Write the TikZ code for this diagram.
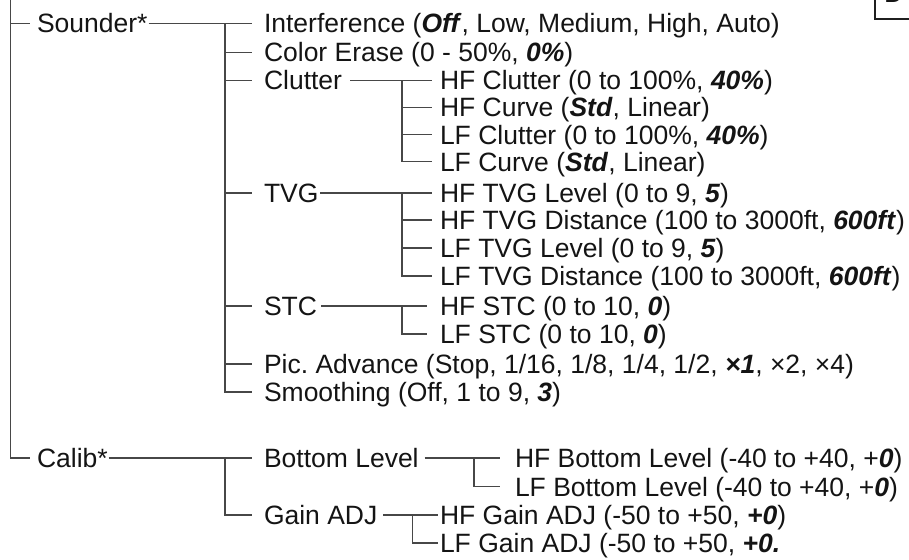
\documentclass[tikz,border=0pt]{standalone}
\usepackage{fontspec}
\setmainfont{Liberation Sans}
\begin{document}
\frenchspacing
\begin{tikzpicture}[x=1pt,y=-1pt,
  lbl/.style={anchor=west, inner sep=0pt, outer sep=0pt, text height=19pt, text depth=0pt,
    font=\fontsize{26.5}{30}\selectfont, text=black!92},
  ln/.style={draw=black!72, line width=1.3pt},
  bx/.style={draw=black!88, line width=1.6pt, minimum width=80pt, minimum height=50pt, inner sep=0pt}]
\newcommand{\bi}[1]{\textbf{\textit{#1}}}
\useasboundingbox (0,0) rectangle (909,559);

% level 1
\node[lbl] (sounder) at (37,23.3) {Sounder*};
\node[lbl] (calib) at (37,458) {Calib*};
\coordinate (top) at (10.7,-5);
\coordinate (s1) at (10.7,23.3);
\coordinate (c1) at (10.7,458);
\draw[ln] (top) -- (c1) -- ([xshift=-7pt]calib.west);
\draw[ln] (s1) -- ([xshift=-7pt]sounder.west);

% level 2 (Sounder)
\node[lbl] (intf) at (264,23.3) {Interference (\bi{Off}, Low, Medium, High, Auto)};
\node[lbl] (cerase) at (264,52.3) {Color Erase (0 - 50\%, \bi{0\%})};
\node[lbl] (clutter) at (264,80.5) {Clutter};
\node[lbl] (tvg) at (264,193) {TVG};
\node[lbl] (stc) at (264,306) {STC};
\node[lbl] (pic) at (264,364) {Pic. Advance (Stop, 1/16, 1/8, 1/4, 1/2, \bi{×1}, ×2, ×4)};
\node[lbl] (smooth) at (264,392) {Smoothing (Off, 1 to 9, \bi{3})};
\coordinate (b2top) at (225,23.3);
\coordinate (b2bot) at (225,392);
\draw[ln] ([xshift=1pt]sounder.east) -- ([xshift=-12pt]intf.west);
\draw[ln] (b2top) -- (b2bot) -- ([xshift=-12pt]smooth.west);
\foreach \n in {cerase,clutter,tvg,stc,pic}
  \draw[ln] (\n.west -| b2top) -- ([xshift=-12pt]\n.west);

% Clutter
\node[lbl] (hfc) at (440,80.5) {HF Clutter (0 to 100\%, \bi{40\%})};
\node[lbl] (hfcv) at (440,107.5) {HF Curve (\bi{Std}, Linear)};
\node[lbl] (lfc) at (440,134.5) {LF Clutter (0 to 100\%, \bi{40\%})};
\node[lbl] (lfcv) at (440,161.5) {LF Curve (\bi{Std}, Linear)};
\coordinate (cb) at (402,80.5);
\draw[ln] ([xshift=8pt]clutter.east) -- ([xshift=-8pt]hfc.west);
\draw[ln] (cb) -- (lfcv.west -| cb) -- ([xshift=-8pt]lfcv.west);
\foreach \n in {hfcv,lfc}
  \draw[ln] (\n.west -| cb) -- ([xshift=-8pt]\n.west);

% TVG
\node[lbl] (htl) at (440,193) {HF TVG Level (0 to 9, \bi{5})};
\node[lbl] (htd) at (440,220) {HF TVG Distance (100 to 3000ft, \bi{600ft})};
\node[lbl] (ltl) at (440,248) {LF TVG Level (0 to 9, \bi{5})};
\node[lbl] (ltd) at (440,276) {LF TVG Distance (100 to 3000ft, \bi{600ft})};
\coordinate (tb) at (402,193);
\draw[ln] ([xshift=2pt]tvg.east) -- ([xshift=-8pt]htl.west);
\draw[ln] (tb) -- (ltd.west -| tb) -- ([xshift=-8pt]ltd.west);
\foreach \n in {htd,ltl}
  \draw[ln] (\n.west -| tb) -- ([xshift=-8pt]\n.west);

% STC
\node[lbl] (hs) at (440,306) {HF STC (0 to 10, \bi{0})};
\node[lbl] (ls) at (440,334) {LF STC (0 to 10, \bi{0})};
\coordinate (sb) at (402,306);
\draw[ln] ([xshift=4pt]stc.east) -- ([xshift=-13pt]hs.west);
\draw[ln] (sb) -- (ls.west -| sb) -- ([xshift=-13pt]ls.west);

% level 2 (Calib)
\node[lbl] (blev) at (264,458) {Bottom Level};
\node[lbl] (gadj) at (264,515) {Gain ADJ};
\coordinate (b3top) at (225,458);
\draw[ln] ([xshift=1pt]calib.east) -- ([xshift=-12pt]blev.west);
\draw[ln] (b3top) -- (gadj.west -| b3top) -- ([xshift=-12pt]gadj.west);

% Bottom Level
\node[lbl] (hbl) at (515,458) {HF Bottom Level (-40 to +40, +\bi{0})};
\node[lbl] (lbl2) at (515,486.5) {LF Bottom Level (-40 to +40, +\bi{0})};
\coordinate (bb) at (474,458);
\draw[ln] ([xshift=6pt]blev.east) -- ([xshift=-15pt]hbl.west);
\draw[ln] (bb) -- (lbl2.west -| bb) -- ([xshift=-15pt]lbl2.west);

% Gain ADJ
\node[lbl] (hga) at (440,515) {HF Gain ADJ (-50 to +50, \bi{+0})};
\node[lbl] (lga) at (440,543) {LF Gain ADJ (-50 to +50, \bi{+0.}};
\coordinate (gb) at (412.7,515);
\draw[ln] ([xshift=6pt]gadj.east) -- ([xshift=-2pt]hga.west);
\draw[ln] (gb) -- (lga.west -| gb) -- ([xshift=-2pt]lga.west);

% partial box top right
\node[bx, anchor=south west] (box) at (874,20) {};
\node[anchor=base west, inner sep=0pt, font=\fontsize{26.5}{30}\selectfont, text=black!92] (boxt) at (884,3) {D};
\end{tikzpicture}
\end{document}
